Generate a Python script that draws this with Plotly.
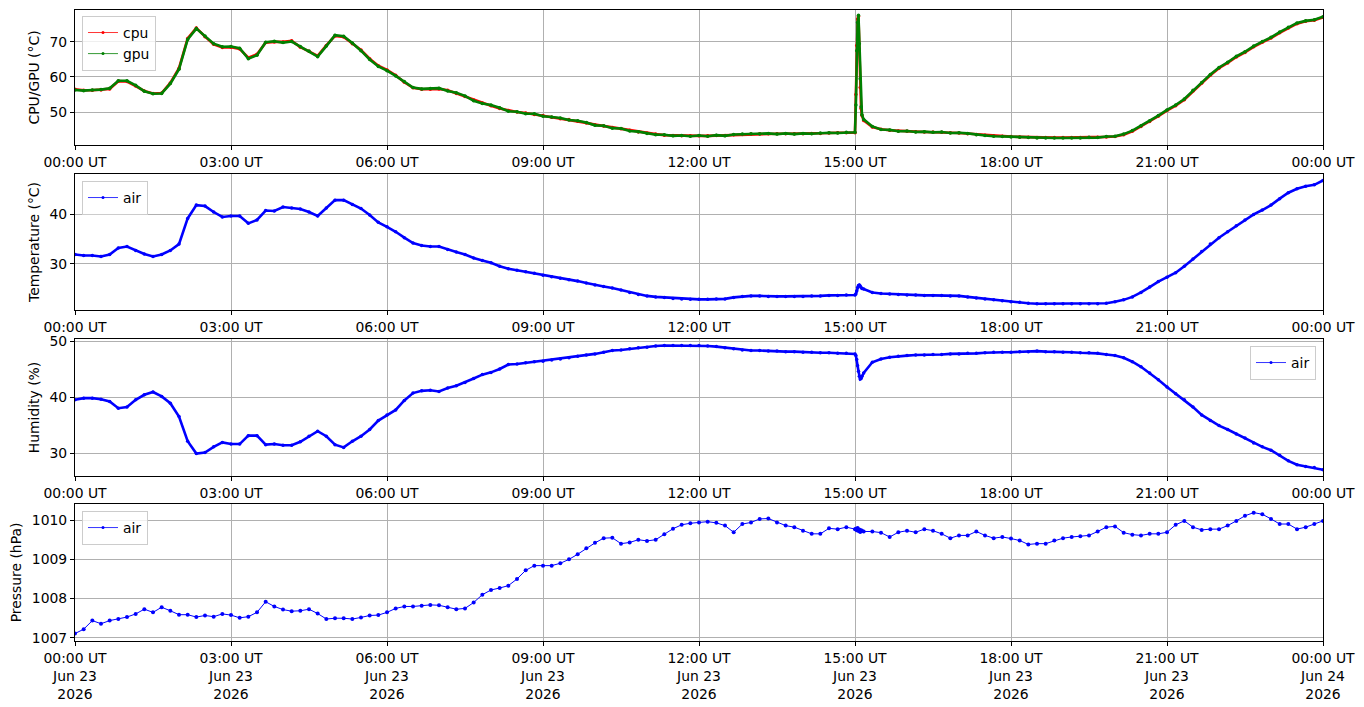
import pandas as pd
import plotly.graph_objects as go

# readings every 10 minutes, 00:00 .. 24:00 (6 per row = one hour)
cpu = [
    56.5, 56.2, 56.2, 56.3, 56.6, 58.8,
    58.7, 57.4, 56.0, 55.3, 55.4, 58.3,
    62.5, 71.0, 74.0, 71.5, 69.3, 68.4,
    68.5, 68.0, 65.5, 66.5, 69.8, 70.0,
    70.0, 70.3, 68.5, 67.3, 66.0, 69.0,
    71.7, 71.4, 69.5, 67.7, 65.2, 63.2,
    62.0, 60.5, 58.5, 56.9, 56.5, 56.5,
    56.6, 56.2, 55.3, 54.4, 53.4, 52.6,
    51.8, 51.0, 50.4, 50.0, 49.7, 49.3,
    49.0, 48.5, 48.1, 47.9, 47.4, 46.9,
    46.4, 46.0, 45.6, 45.2, 44.8, 44.3,
    44.0, 43.7, 43.4, 43.3, 43.2, 43.2,
    43.2, 43.2, 43.3, 43.3, 43.5, 43.6,
    43.7, 43.8, 43.8, 43.8, 43.8, 43.8,
    43.8, 43.9, 43.9, 44.0, 44.1, 44.1,
    44.1, 47.6, 45.7, 45.1, 44.8, 44.6,
    44.5, 44.4, 44.3, 44.3, 44.2, 44.1,
    44.0, 43.8, 43.6, 43.4, 43.2, 43.1,
    43.0, 42.9, 42.8, 42.7, 42.7, 42.7,
    42.7, 42.7, 42.7, 42.7, 42.8, 42.9,
    43.0, 43.5, 44.5, 45.9, 47.3, 48.8,
    50.4, 51.8, 53.5, 56.0, 58.2, 60.5,
    62.5, 64.0, 65.7, 67.0, 68.6, 69.9,
    71.1, 72.6, 74.0, 75.2, 75.9, 76.2,
    77.0,
]

gpu = [
    56.3, 56.1, 56.3, 56.4, 56.8, 58.9,
    58.9, 57.6, 55.9, 55.2, 55.3, 58.1,
    62.2, 70.7, 73.8, 71.7, 69.5, 68.6,
    68.7, 68.2, 65.2, 66.2, 69.9, 70.2,
    69.8, 70.1, 68.7, 67.4, 65.8, 68.8,
    71.9, 71.6, 69.7, 67.5, 65.0, 63.0,
    61.8, 60.3, 58.7, 57.0, 56.6, 56.7,
    56.8, 56.0, 55.5, 54.6, 53.2, 52.4,
    52.0, 51.2, 50.2, 50.1, 49.5, 49.5,
    48.8, 48.6, 48.3, 47.7, 47.5, 47.0,
    46.2, 46.1, 45.4, 45.3, 44.6, 44.4,
    43.9, 43.5, 43.5, 43.2, 43.3, 43.1,
    43.3, 43.1, 43.4, 43.2, 43.6, 43.7,
    43.8, 43.7, 43.9, 43.7, 43.9, 43.7,
    43.9, 43.8, 44.0, 44.1, 44.0, 44.2,
    44.2, 47.9, 45.9, 45.0, 44.9, 44.5,
    44.6, 44.3, 44.4, 44.2, 44.3, 44.0,
    44.1, 43.9, 43.5, 43.3, 43.1, 43.0,
    42.9, 42.8, 42.7, 42.6, 42.6, 42.6,
    42.6, 42.6, 42.6, 42.8, 42.7, 43.0,
    43.1, 43.7, 44.7, 46.1, 47.5, 49.0,
    50.6, 52.0, 53.7, 56.2, 58.4, 60.7,
    62.7, 64.2, 65.9, 67.2, 68.8, 70.1,
    71.3, 72.8, 74.2, 75.4, 76.0, 76.3,
    77.2,
]

temperature = [
    31.9, 31.7, 31.7, 31.5, 31.9, 33.2,
    33.5, 32.7, 32.0, 31.5, 31.9, 32.7,
    34.0, 39.2, 41.9, 41.7, 40.5, 39.5,
    39.7, 39.7, 38.2, 38.9, 40.8, 40.7,
    41.5, 41.3, 41.1, 40.5, 39.7, 41.3,
    42.9, 42.9, 42.0, 41.2, 39.9, 38.4,
    37.5, 36.5, 35.3, 34.2, 33.7, 33.5,
    33.5, 32.9, 32.4, 31.9, 31.2, 30.7,
    30.2, 29.5, 29.0, 28.7, 28.4, 28.1,
    27.7, 27.4, 27.1, 26.8, 26.5, 26.1,
    25.7, 25.4, 25.1, 24.7, 24.2, 23.8,
    23.5, 23.3, 23.2, 23.0, 22.9, 22.8,
    22.8, 22.8, 22.9, 22.9, 23.2, 23.4,
    23.5, 23.5, 23.4, 23.4, 23.4, 23.4,
    23.4, 23.5, 23.5, 23.6, 23.6, 23.7,
    23.7, 24.9, 24.2, 24.0, 23.9, 23.8,
    23.7, 23.7, 23.6, 23.6, 23.6, 23.5,
    23.5, 23.3, 23.1, 22.9, 22.7, 22.5,
    22.3, 22.2, 22.0, 21.9, 21.9, 21.9,
    21.9, 21.9, 21.9, 21.9, 21.9, 22.0,
    22.3, 22.7, 23.3, 24.2, 25.3, 26.4,
    27.3, 28.2, 29.5, 31.0, 32.5, 34.0,
    35.3, 36.5, 37.7, 38.9, 40.0, 40.9,
    41.9, 43.2, 44.4, 45.2, 45.7, 46.0,
    46.9,
]

humidity = [
    39.5, 39.8, 39.8, 39.6, 39.2, 38.0,
    38.2, 39.5, 40.4, 40.9, 40.1, 38.9,
    36.5, 32.1, 29.9, 30.1, 31.1, 31.9,
    31.6, 31.6, 33.1, 33.1, 31.5, 31.6,
    31.4, 31.4, 32.0, 33.0, 33.9, 33.0,
    31.5, 31.0, 32.1, 33.0, 34.2, 35.8,
    36.8, 37.7, 39.4, 40.7, 41.1, 41.2,
    41.0, 41.6, 42.0, 42.6, 43.3, 44.0,
    44.4, 45.0, 45.8, 45.9, 46.1, 46.3,
    46.4, 46.6, 46.8, 47.0, 47.3, 47.5,
    47.7, 48.0, 48.3, 48.4, 48.6, 48.8,
    48.9, 49.1, 49.2, 49.2, 49.2, 49.2,
    49.2, 49.1, 49.0, 48.8, 48.6, 48.4,
    48.3, 48.3, 48.2, 48.2, 48.1, 48.1,
    48.0, 48.0, 47.9, 47.9, 47.8, 47.8,
    47.7, 44.3, 46.2, 46.8, 47.1, 47.3,
    47.4, 47.5, 47.5, 47.6, 47.6, 47.7,
    47.7, 47.8, 47.8, 47.9, 48.0, 48.0,
    48.0, 48.1, 48.1, 48.2, 48.1, 48.1,
    48.0, 48.0, 47.9, 47.9, 47.8, 47.6,
    47.4, 47.0, 46.3, 45.4, 44.3, 43.1,
    41.8, 40.6, 39.5, 38.2, 36.8, 35.8,
    34.9, 34.2, 33.4, 32.7, 31.8, 31.1,
    30.5, 29.6, 28.6, 27.9, 27.6, 27.4,
    27.0,
]

pressure = [
    1007.11, 1007.22, 1007.44, 1007.36, 1007.44, 1007.48,
    1007.53, 1007.61, 1007.73, 1007.65, 1007.78, 1007.69,
    1007.59, 1007.59, 1007.53, 1007.57, 1007.54, 1007.61,
    1007.58, 1007.51, 1007.54, 1007.65, 1007.92, 1007.80,
    1007.72, 1007.68, 1007.69, 1007.73, 1007.62, 1007.48,
    1007.50, 1007.50, 1007.48, 1007.52, 1007.57, 1007.58,
    1007.65, 1007.75, 1007.80, 1007.80, 1007.82, 1007.84,
    1007.83, 1007.78, 1007.73, 1007.75, 1007.90, 1008.10,
    1008.22, 1008.27, 1008.33, 1008.50, 1008.72, 1008.84,
    1008.84, 1008.84, 1008.90, 1009.00, 1009.13, 1009.28,
    1009.42, 1009.54, 1009.55, 1009.40, 1009.43, 1009.50,
    1009.47, 1009.50, 1009.64, 1009.78, 1009.88, 1009.92,
    1009.94, 1009.96, 1009.93, 1009.86, 1009.69, 1009.90,
    1009.94, 1010.03, 1010.04, 1009.94, 1009.86, 1009.82,
    1009.73, 1009.65, 1009.65, 1009.79, 1009.77, 1009.82,
    1009.77, 1009.71, 1009.71, 1009.68, 1009.57, 1009.69,
    1009.73, 1009.69, 1009.77, 1009.73, 1009.65, 1009.54,
    1009.61, 1009.61, 1009.71, 1009.61, 1009.54, 1009.57,
    1009.53, 1009.48, 1009.38, 1009.40, 1009.40, 1009.48,
    1009.54, 1009.57, 1009.59, 1009.61, 1009.71, 1009.82,
    1009.84, 1009.68, 1009.63, 1009.61, 1009.65, 1009.65,
    1009.69, 1009.88, 1009.98, 1009.82, 1009.75, 1009.77,
    1009.77, 1009.86, 1009.98, 1010.11, 1010.19, 1010.15,
    1010.03, 1009.90, 1009.90, 1009.77, 1009.82, 1009.90,
    1009.98,
]

# extra minute readings around the 15:00 spike
spike_times = ["15:01", "15:02", "15:03", "15:04", "15:05", "15:06", "15:07", "15:08"]
cpu_spike = [55.0, 69.0, 76.5, 77.3, 68.0, 57.0, 51.0, 49.0]
gpu_spike = [52.0, 67.5, 75.5, 77.6, 69.5, 59.5, 51.5, 49.2]
temp_spike = [23.9, 24.5, 25.2, 25.6, 25.7, 25.5, 25.2, 25.0]
hum_spike = [47.4, 46.7, 45.6, 44.6, 43.7, 43.2, 43.3, 43.7]
pres_spike = [1009.78, 1009.74, 1009.80, 1009.72, 1009.76, 1009.70, 1009.74, 1009.73]

tick_labels = ["00:00 UT", "03:00 UT", "06:00 UT", "09:00 UT", "12:00 UT",
               "15:00 UT", "18:00 UT", "21:00 UT", "00:00 UT"]
tick_days = ["Jun 23"] * 8 + ["Jun 24"]
tick_year = "2026"

day = "2026-06-23"
times = pd.date_range(day + " 00:00", "2026-06-24 00:00", freq="10min")
df = pd.DataFrame({"time": times, "cpu": cpu, "gpu": gpu, "temp": temperature,
                   "hum": humidity, "pres": pressure})
sp = pd.DataFrame({"time": pd.to_datetime([day + " " + t for t in spike_times]),
                   "cpu": cpu_spike, "gpu": gpu_spike, "temp": temp_spike,
                   "hum": hum_spike, "pres": pres_spike})
df = pd.concat([df, sp]).sort_values("time").reset_index(drop=True)

tick_vals = pd.date_range(day + " 00:00", "2026-06-24 00:00", freq="3h")
bottom_text = [f"{t}<br>{d}<br>{tick_year}" for t, d in zip(tick_labels, tick_days)]

font = dict(family="DejaVu Sans", size=13.9, color="black")

fig = go.Figure()

panels = [
    ("y", [("cpu", "cpu", "#ff0000"), ("gpu", "gpu", "#008000")], "legend"),
    ("y2", [("temp", "air", "#0000ff")], "legend2"),
    ("y3", [("hum", "air", "#0000ff")], "legend3"),
    ("y4", [("pres", "air", "#0000ff")], "legend4"),
]
xnames = ["x", "x2", "x3", "x4"]

for (yax, series, leg), xax in zip(panels, xnames):
    for col, name, color in series:
        w = 1.0 if col == "pres" else 2.6
        ms = 4 if col == "pres" else 3.5
        fig.add_trace(go.Scatter(
            x=df["time"], y=df[col], mode="lines+markers", name=name,
            line=dict(color=color, width=w), marker=dict(color=color, size=ms),
            xaxis=xax, yaxis=yax, showlegend=False, hoverinfo="skip"))
        # thin legend entry like the original
        fig.add_trace(go.Scatter(
            x=[None], y=[None], mode="lines+markers", name=name,
            line=dict(color=color, width=0.8), marker=dict(color=color, size=3),
            xaxis=xax, yaxis=yax, legend=leg))

# plot area: x 75..1323, y 10..641 of a 1364x707 page
domains = [[0.7861, 1.0], [0.5246, 0.7401], [0.2615, 0.4786], [0.0, 0.2171]]
yranges = [[40.6, 79.1], [20.65, 48.2], [25.9, 50.36], [1006.92, 1010.41]]
ytitles = ["CPU/GPU (°C)", "Temperature (°C)", "Humidity (%)", "Pressure (hPa)"]
yticks = [[50, 60, 70], [30, 40], [30, 40, 50], [1007, 1008, 1009, 1010]]

axis_common = dict(showline=True, linecolor="black", linewidth=1, mirror=True,
                   ticks="outside", ticklen=4, tickcolor="black",
                   showgrid=True, gridcolor="#b0b0b0", gridwidth=1,
                   zeroline=False, tickfont=font, automargin=False)

layout = dict(
    width=1364, height=707, margin=dict(l=75, r=41, t=10, b=66),
    paper_bgcolor="white", plot_bgcolor="white", font=font,
)
for i in range(4):
    xk = "xaxis" if i == 0 else f"xaxis{i + 1}"
    yk = "yaxis" if i == 0 else f"yaxis{i + 1}"
    layout[xk] = dict(axis_common, domain=[0, 1], anchor="y" if i == 0 else f"y{i + 1}",
                      range=[times[0], times[-1]], tickvals=tick_vals,
                      ticktext=bottom_text if i == 3 else tick_labels)
    layout[yk] = dict(axis_common, domain=domains[i], anchor="x" if i == 0 else f"x{i + 1}",
                      range=yranges[i], tickvals=yticks[i], tickformat="d",
                      title=dict(text=ytitles[i], font=font, standoff=6))

leg_style = dict(bgcolor="rgba(255,255,255,0.8)", bordercolor="#cccccc", borderwidth=1,
                 font=font, itemwidth=30, tracegroupgap=2)
layout["legend"] = dict(leg_style, x=0.0056, y=0.9905, xanchor="left", yanchor="top")
layout["legend2"] = dict(leg_style, x=0.0056, y=0.729, xanchor="left", yanchor="top")
layout["legend3"] = dict(leg_style, x=0.9944, y=0.4675, xanchor="right", yanchor="top")
layout["legend4"] = dict(leg_style, x=0.0056, y=0.206, xanchor="left", yanchor="top")

fig.update_layout(**layout)
fig.write_html("out.html", config={"displayModeBar": False},
               post_script="document.body.style.margin='0';")
